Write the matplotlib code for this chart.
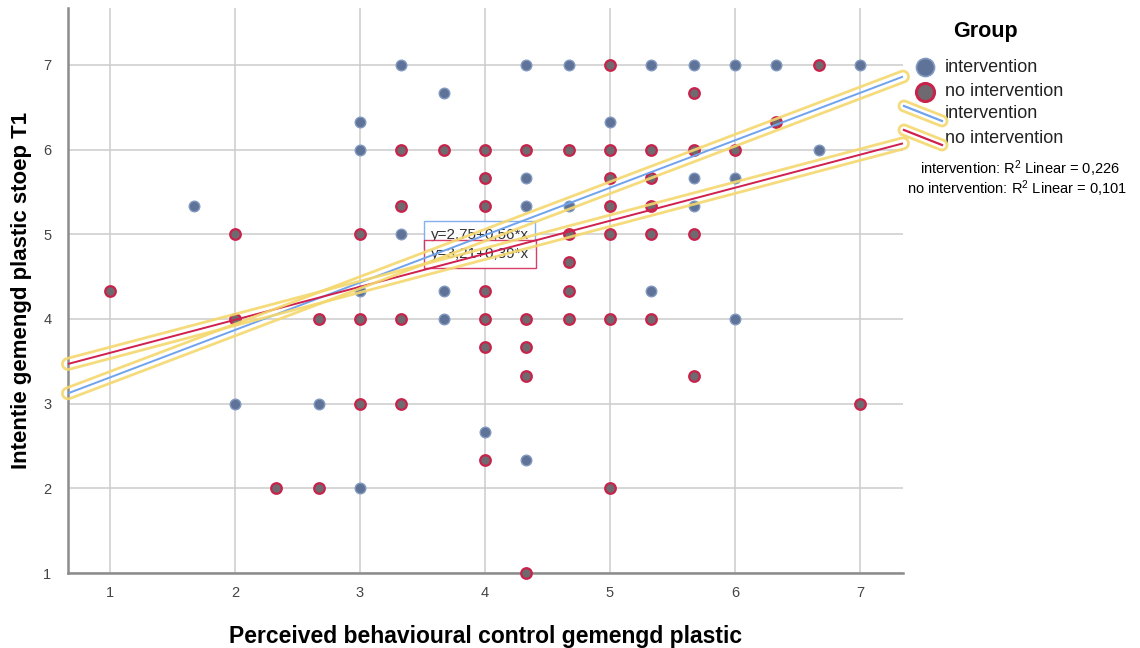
import numpy as np
import matplotlib
matplotlib.use("Agg")
import matplotlib.pyplot as plt
from matplotlib.lines import Line2D
from matplotlib.patches import Polygon
from matplotlib.transforms import IdentityTransform

plt.rcParams["font.family"] = ["Liberation Sans", "DejaVu Sans"]
plt.rcParams["mathtext.default"] = "regular"

# Scale scores per respondent (averages of three items, so steps of 1/3)
int_x = [3.33, 4.33, 4.67, 5.33, 5.67, 6, 6.33, 7,
         3.67, 3, 5, 3, 6.67,
         4.33, 5.67, 6,
         1.67, 4.33, 4.67, 5.67,
         3.33, 3, 3.67, 5.33,
         3.67, 6, 2, 2.67, 4, 4.33, 3]
int_y = [7, 7, 7, 7, 7, 7, 7, 7,
         6.67, 6.33, 6.33, 6, 6,
         5.67, 5.67, 5.67,
         5.33, 5.33, 5.33, 5.33,
         5, 4.33, 4.33, 4.33,
         4, 4, 3, 3, 2.67, 2.33, 2]

noint_x = [5, 6.67, 5.67, 6.33,
           3.33, 3.67, 4, 4.33, 4.67, 5, 5.33, 5.67, 6,
           4, 5, 5.33,
           3.33, 4, 5, 5.33,
           2, 3, 4.67, 5, 5.33, 5.67,
           4.67, 1, 4, 4.67,
           2, 2.67, 3, 3.33, 4, 4.33, 4.67, 5, 5.33,
           4, 4.33, 4.33, 5.67,
           3, 3.33, 7, 4, 2.33, 2.67, 5, 4.33]
noint_y = [7, 7, 6.67, 6.33,
           6, 6, 6, 6, 6, 6, 6, 6, 6,
           5.67, 5.67, 5.67,
           5.33, 5.33, 5.33, 5.33,
           5, 5, 5, 5, 5, 5,
           4.67, 4.33, 4.33, 4.33,
           4, 4, 4, 4, 4, 4, 4, 4, 4,
           3.67, 3.67, 3.33, 3.33,
           3, 3, 3, 2.33, 2, 2, 2, 1]

# Linear fits per group: intercept, slope, R^2
int_fit = (2.75, 0.56, 0.226)
noint_fit = (3.21, 0.39, 0.101)

groups = ["intervention", "no intervention"]
x_label = "Perceived behavioural control gemengd plastic"
y_label = "Intentie gemengd plastic stoep T1"
title = "Intentie gemengd plastic stoep T1 by Perceived behavioural control by Group"

BLUE_FILL, BLUE_EDGE, BLUE_LINE = "#5f7398", "#8299c0", "#6fa3ec"
RED_FILL, RED_EDGE, RED_LINE = "#6e6a70", "#c8234b", "#d0204e"
HALO = "#f4d86e"

DPI = 100
fig = plt.figure(figsize=(11.4, 6.48), dpi=DPI)
ax = fig.add_axes([0.0596, 0.1157, 0.7325, 0.872])
xlim = (0.664, 7.344)
ax.set_xlim(*xlim)
ax.set_ylim(1, 7.673)

ax.set_xticks(range(1, 8))
ax.set_yticks(range(1, 8))
ax.grid(True, color="#cccccc", lw=1.1)
ax.set_axisbelow(True)
for side in ("top", "right"):
    ax.spines[side].set_visible(False)
for side in ("left", "bottom"):
    ax.spines[side].set_color("#8c8c8c")
    ax.spines[side].set_linewidth(1.8)
ax.tick_params(length=0, labelsize=10.5, labelcolor="#444444")
ax.tick_params(axis="x", pad=9)
ax.tick_params(axis="y", pad=12)

ax.set_xlabel(x_label, fontsize=16.5, fontweight="bold", labelpad=18)
ax.set_ylabel(y_label, fontsize=16, fontweight="bold", labelpad=8)
# title sits just above the top edge, only its descenders reach into view
fig.text(0.52, 1.0045, title, ha="center", va="baseline", fontsize=12.5, fontweight="bold")

ax.scatter(int_x, int_y, s=58, c=BLUE_FILL, edgecolors=BLUE_EDGE, linewidths=1.0,
           zorder=3, clip_on=False)
ax.scatter(noint_x, noint_y, s=58, c=RED_FILL, edgecolors=RED_EDGE, linewidths=1.6,
           zorder=3, clip_on=False)


def stadium(p0, p1, r, n=20):
    """Outline of a rounded band around the segment p0-p1 (display coords)."""
    p0, p1 = np.asarray(p0, float), np.asarray(p1, float)
    th = np.arctan2(*(p1 - p0)[::-1])
    a1 = np.linspace(th - np.pi / 2, th + np.pi / 2, n)
    a0 = np.linspace(th + np.pi / 2, th + 3 * np.pi / 2, n)
    pts = np.vstack([p1 + r * np.c_[np.cos(a1), np.sin(a1)],
                     p0 + r * np.c_[np.cos(a0), np.sin(a0)]])
    return pts


def halo(p0, p1, r=5.5):
    patch = Polygon(stadium(p0, p1, r), closed=True, fill=False, edgecolor=HALO,
                    lw=2.0, alpha=0.9, transform=IdentityTransform(), clip_on=False,
                    zorder=7)
    fig.add_artist(patch)


# Equation boxes
eq_style = dict(fontsize=11, color="#333333", ha="left", va="center", zorder=6)
ax.text(3.565, 4.99, "y=2,75+0,56*x", bbox=dict(boxstyle="square,pad=0.45", fc="white",
        ec=BLUE_LINE, lw=1.0, alpha=0.85), **eq_style)
ax.text(3.565, 4.77, "y=3,21+0,39*x", bbox=dict(boxstyle="square,pad=0.45", fc="white",
        ec=RED_LINE, lw=1.0, alpha=0.85), **eq_style)

xs = np.array(xlim)
for (b0, b1, _), color in ((int_fit, BLUE_LINE), (noint_fit, RED_LINE)):
    ys = b0 + b1 * xs
    ax.plot(xs, ys, color=color, lw=1.4, zorder=6.5, solid_capstyle="butt", clip_on=False)
    disp = ax.transData.transform(np.c_[xs, ys])
    halo(disp[0], disp[1])

# Legend, laid out in pixel positions of the figure
W, H = fig.get_size_inches() * DPI


def fx(px):
    return px / W


def fy(py):
    return 1 - py / H


fig.text(fx(985), fy(32), "Group", fontsize=15.5, fontweight="bold", ha="center", va="center")
fig.add_artist(Line2D([fx(925)], [fy(67)], marker="o", ms=13, mfc=BLUE_FILL, mec=BLUE_EDGE,
                      mew=1.2, ls="none", transform=fig.transFigure))
fig.add_artist(Line2D([fx(925)], [fy(92)], marker="o", ms=13, mfc=RED_FILL, mec=RED_EDGE,
                      mew=2.2, ls="none", transform=fig.transFigure))
leg_lines = [((904, 106), (942, 121), BLUE_LINE), ((904, 130), (942, 145), RED_LINE)]
for (x0, y0), (x1, y1), color in leg_lines:
    fig.add_artist(Line2D([fx(x0), fx(x1)], [fy(y0), fy(y1)], color=color, lw=1.6,
                          transform=fig.transFigure))
    halo((x0, H - y0), (x1, H - y1), r=5)
for py, name in zip((67, 92, 114, 139), groups + groups):
    fig.text(fx(945), fy(py), name, fontsize=13, ha="left", va="center", color="#222222")

r2_lines = [f"{g}: R$^2$ Linear = {fit[2]:.3f}".replace(".", ",")
            for g, fit in zip(groups, (int_fit, noint_fit))]
fig.text(fx(1020), fy(169), r2_lines[0], fontsize=10.5, ha="center", va="center")
fig.text(fx(1017), fy(189), r2_lines[1], fontsize=10.5, ha="center", va="center")

fig.savefig("out.png", dpi=DPI)
